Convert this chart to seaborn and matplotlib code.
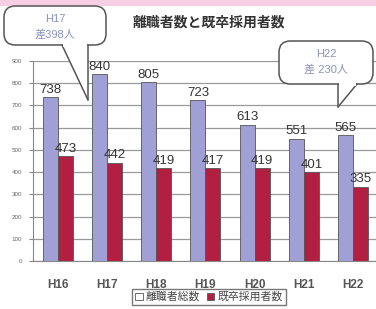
import matplotlib
matplotlib.use("Agg")
import matplotlib.pyplot as plt
from matplotlib.patches import FancyBboxPatch, Rectangle, Polygon
from matplotlib.lines import Line2D
import seaborn as sns
import pandas as pd

years = ["H16", "H17", "H18", "H19", "H20", "H21", "H22"]
leavers = [738, 840, 805, 723, 613, 551, 565]
hires = [473, 442, 419, 417, 419, 401, 335]
series = ["離職者総数", "既卒採用者数"]
title = "離職者数と既卒採用者数"
callouts = [("H17", "差398人"), ("H22", "差 230人")]

df = pd.DataFrame({
    "year": years * 2,
    "value": leavers + hires,
    "series": [series[0]] * len(years) + [series[1]] * len(years),
})

sns.set_style("white")
plt.rcParams["font.family"] = ["Liberation Sans", "Noto Sans CJK JP", "DejaVu Sans"]

W, H = 376, 309
fig = plt.figure(figsize=(W / 100, H / 100), dpi=100)
ax = fig.add_axes([33 / W, 1 - 261 / H, 343 / W, 200 / H])

colors = {series[0]: "#a0a0d6", series[1]: "#b21f40"}
sns.barplot(data=df, x="year", y="value", hue="series", palette=colors,
            saturation=1, width=0.61, edgecolor="#555555", linewidth=0.6,
            ax=ax, legend=False)

ax.set_ylim(0, 900)
ax.set_xlim(-0.508, 6.468)
ax.set_yticks(range(0, 901, 100))
ax.yaxis.grid(True, color="#9a9a9a", linewidth=0.9)
ax.set_axisbelow(True)
ax.set_xlabel("")
ax.set_ylabel("")
for s in ["top", "right"]:
    ax.spines[s].set_visible(False)
ax.spines["left"].set_color("#888888")
ax.spines["bottom"].set_color("#888888")
ax.tick_params(axis="y", labelsize=4.5, labelcolor="#666666", length=3,
               color="#888888", left=True, pad=5)
ax.tick_params(axis="x", labelsize=8.5, labelcolor="#555555", length=0, pad=13)
for t in ax.get_xticklabels():
    t.set_fontweight("bold")

for cont in ax.containers:
    ax.bar_label(cont, fontsize=9.5, color="#333333", padding=1)

# legend
handles = [Rectangle((0, 0), 1, 1, facecolor="white", edgecolor="#555555", lw=0.6),
           Rectangle((0, 0), 1, 1, facecolor=colors[series[1]], edgecolor="#555555", lw=0.6)]
fig.legend(handles, series, loc="center", bbox_to_anchor=(209 / W, 1 - 297 / H),
           ncol=2, fontsize=7.8, frameon=True, edgecolor="#555555", fancybox=False,
           handlelength=0.7, handleheight=0.7, handletextpad=0.3, columnspacing=0.6,
           borderpad=0.3, labelcolor="#444444")

# title and top band
fig.text(209 / W, 1 - 22 / H, title, ha="center", va="center", fontsize=10,
         fontweight="bold", color="#333333")
fig.patches.append(Rectangle((0, 1 - 6 / H), 1, 6 / H, transform=fig.transFigure,
                             facecolor="#f6d0e2", edgecolor="none", zorder=5))


def px(x, y):
    return (x / W, 1 - y / H)


def callout(box, tip, base, label):
    x0, y0, x1, y1 = box
    fig.patches.append(Polygon([px(*base[0]), px(*tip), px(*base[1])], closed=True,
                               transform=fig.transFigure, facecolor="white",
                               edgecolor="none", zorder=6))
    for b in base:
        fig.lines.append(Line2D([b[0] / W, tip[0] / W], [1 - b[1] / H, 1 - tip[1] / H],
                                transform=fig.transFigure, color="#555555", lw=1.1, zorder=7))
    fig.patches.append(FancyBboxPatch(px(x0, y1), (x1 - x0) / W, (y1 - y0) / H,
                                      boxstyle="round,pad=0,rounding_size=0.03",
                                      transform=fig.transFigure, facecolor="white",
                                      edgecolor="#555555", lw=1.1, zorder=6,
                                      mutation_aspect=W / H))
    fig.patches.append(Polygon([px(base[0][0] + 1, y1 - 1.5), px(base[1][0] - 1, y1 - 1.5),
                                px(base[1][0] - 1, y1 + 1.5), px(base[0][0] + 1, y1 + 1.5)],
                               transform=fig.transFigure, facecolor="white",
                               edgecolor="none", zorder=7))
    cx = (x0 + x1) / 2
    fig.text(cx / W, 1 - (y0 + 13) / H, label[0], ha="center", va="center",
             fontsize=8, color="#8a93b8", zorder=8)
    fig.text(cx / W, 1 - (y0 + 28) / H, label[1], ha="center", va="center",
             fontsize=8, color="#8a93b8", zorder=8)


callout((4, 6, 106, 45), (88, 100), [(62, 45), (88, 45)], callouts[0])
callout((279, 41, 373, 84), (338, 107), [(338, 84), (357, 84)], callouts[1])

fig.savefig("out.png", dpi=100)
